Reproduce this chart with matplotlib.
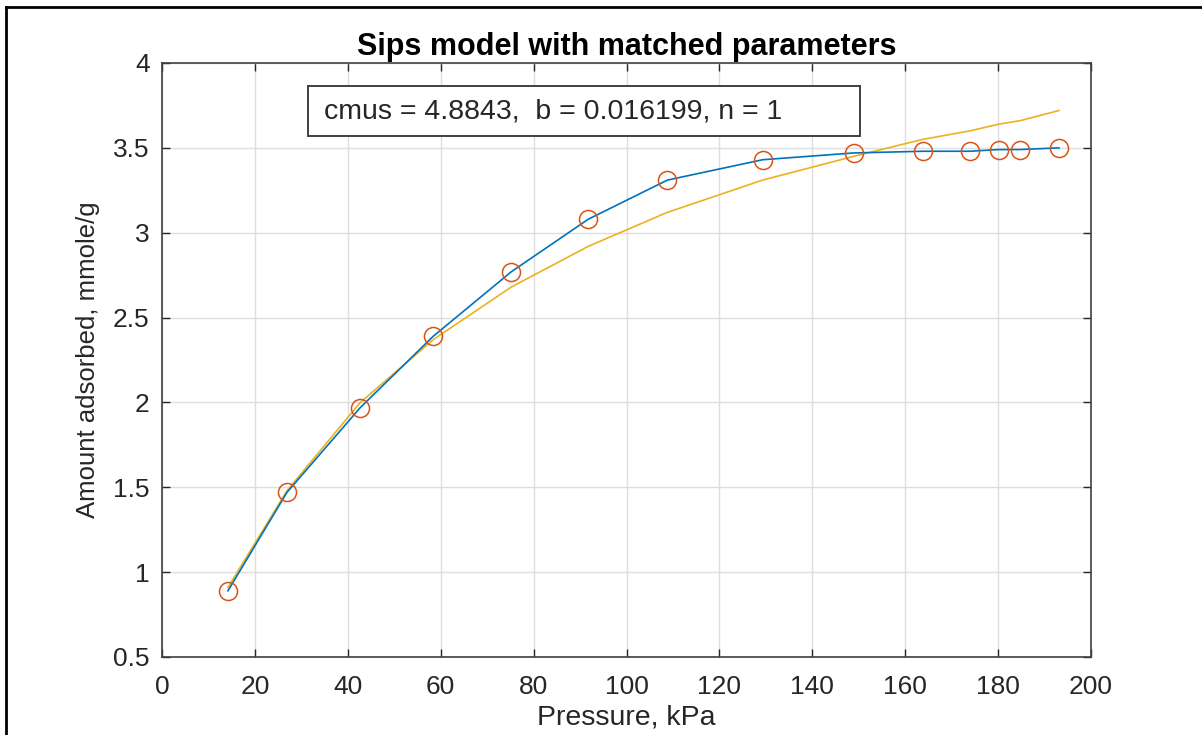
import numpy as np
import matplotlib
matplotlib.use('Agg')
import matplotlib.pyplot as plt
from matplotlib.lines import Line2D
from matplotlib.patches import Rectangle

plt.rcParams['font.family'] = ['Liberation Sans', 'DejaVu Sans']

# measured data (kPa, mmole/g)
pressure = [14.2, 26.9, 42.7, 58.4, 75.2, 91.8, 108.8, 129.3, 148.9, 163.8, 173.9, 180.2, 184.7, 193.1]
adsorbed = [0.89, 1.47, 1.97, 2.39, 2.77, 3.08, 3.31, 3.43, 3.47, 3.48, 3.48, 3.49, 3.49, 3.50]
# Sips model curve at the same pressures
sips_q = [0.91, 1.48, 2.00, 2.37, 2.68, 2.92, 3.12, 3.31, 3.45, 3.55, 3.60, 3.64, 3.66, 3.72]

title = 'Sips model with matched parameters'
param_text = 'cmus = 4.8843,  b = 0.016199, n = 1'
xticks = np.arange(0, 201, 20)
yticks = np.arange(0.5, 4.01, 0.5)

c_blue = '#0072BD'
c_orange = '#D95319'
c_yellow = '#EDB120'
c_text = '#262626'

fig = plt.figure(figsize=(12.02, 7.35), dpi=100, facecolor='white')
ax = fig.add_axes([162 / 1202, 1 - 657 / 735, 929 / 1202, 594 / 735])

ax.plot(pressure, adsorbed, color=c_blue, linewidth=1.2, zorder=3)
ax.plot(pressure, adsorbed, linestyle='none', marker='o', markersize=13,
        markerfacecolor='none', markeredgecolor=c_orange, markeredgewidth=1.1, zorder=4)
ax.plot(pressure, sips_q, color=c_yellow, linewidth=1.2, zorder=2)

ax.set_xlim(0, 200)
ax.set_ylim(0.5, 4)
ax.set_xticks(xticks)
ax.set_yticks(yticks)
ax.set_xticklabels([f'{v:g}' for v in xticks])
ax.set_yticklabels([f'{v:g}' for v in yticks])
ax.tick_params(direction='in', length=6, width=1.0, colors=c_text,
               labelsize=19, top=True, right=True)
ax.tick_params(axis='x', pad=13)
ax.tick_params(axis='y', pad=9)
for s in ax.spines.values():
    s.set_color('#404040')
    s.set_linewidth(1.2)
ax.grid(True, color='#dedede', linewidth=1.0)
ax.set_axisbelow(True)

ax.set_title(title, fontsize=22, fontweight='bold', pad=6)
ax.set_xlabel('Pressure, kPa', fontsize=20.5, color=c_text, labelpad=4)
ax.set_ylabel('Amount adsorbed, mmole/g', fontsize=18.5, color=c_text, labelpad=9)

# parameter box
ax.add_patch(Rectangle((0.157, 0.877), 0.594, 0.084, transform=ax.transAxes,
                       facecolor='white', edgecolor='#404040', linewidth=1.4, zorder=6))
ax.text(0.1744, 0.919, param_text, transform=ax.transAxes, fontsize=20.5,
        va='center', ha='left', color=c_text, zorder=7)

# outer frame (left and top edges visible)
fig.add_artist(Line2D([6 / 1202, 6 / 1202], [0, 1 - 7 / 735], color='black',
                      linewidth=2, transform=fig.transFigure))
fig.add_artist(Line2D([6 / 1202, 1], [1 - 7 / 735, 1 - 7 / 735], color='black',
                      linewidth=2, transform=fig.transFigure))

fig.savefig('out.png', dpi=100, facecolor='white')
